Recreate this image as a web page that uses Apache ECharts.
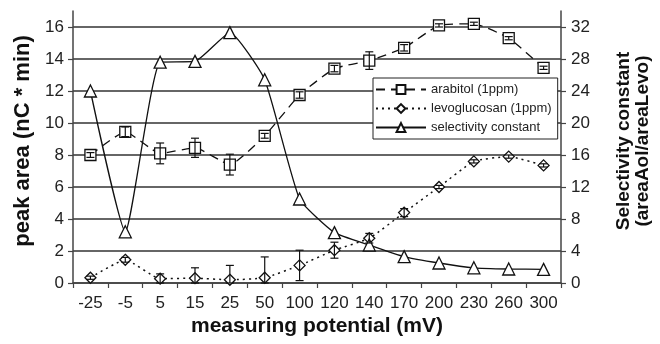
<!DOCTYPE html>
<html>
<head>
<meta charset="utf-8">
<script src="https://cdn.jsdelivr.net/npm/echarts@6/dist/echarts.min.js"></script>
<style>
  html, body { margin: 0; padding: 0; background: #fff; }
  #chart { width: 660px; height: 344px; }
</style>
</head>
<body>
<div id="chart"></div>
<script>
// measuring potential (mV)
const categories = ['-25', '-5', '5', '15', '25', '50', '100', '120', '140', '170', '200', '230', '260', '300'];
// peak area (nC * min), left axis
const arabitol = [8.0, 9.45, 8.1, 8.45, 7.4, 9.2, 11.75, 13.4, 13.9, 14.7, 16.1, 16.2, 15.3, 13.45];
const arabitolErr = [0.15, 0.3, 0.65, 0.6, 0.65, 0.15, 0.2, 0.2, 0.55, 0.2, 0.1, 0.1, 0.1, 0.1];
const levoglucosan = [0.33, 1.45, 0.27, 0.3, 0.2, 0.33, 1.1, 2.05, 2.8, 4.4, 6.0, 7.6, 7.9, 7.35];
const levoErr = [0.1, 0.15, 0.3, 0.65, 0.9, 1.3, 0.95, 0.5, 0.3, 0.25, 0.1, 0.1, 0.1, 0.1];
// selectivity constant, right axis
const selectivity = [24.0, 6.4, 27.6, 27.7, 31.3, 25.4, 10.5, 6.3, 4.75, 3.3, 2.5, 1.9, 1.75, 1.7];

const FONT = 'Liberation Sans, Arial, sans-serif';

// error bar data: [index, low, high]
function errData(vals, errs) {
  return vals.map((v, i) => [i, Math.max(0, v - errs[i]), v + errs[i]]);
}

function renderErr(params, api) {
  const lo = api.coord([api.value(0), api.value(1)]);
  const hi = api.coord([api.value(0), api.value(2)]);
  const cap = 4;
  const style = { stroke: '#111', lineWidth: 1.2 };
  return {
    type: 'group',
    children: [
      { type: 'line', shape: { x1: lo[0], y1: lo[1], x2: hi[0], y2: hi[1] }, style },
      { type: 'line', shape: { x1: lo[0] - cap, y1: lo[1], x2: lo[0] + cap, y2: lo[1] }, style },
      { type: 'line', shape: { x1: hi[0] - cap, y1: hi[1], x2: hi[0] + cap, y2: hi[1] }, style }
    ]
  };
}

const chart = echarts.init(document.getElementById('chart'));

const option = {
  animation: false,
  backgroundColor: '#fff',
  textStyle: { fontFamily: FONT },
  grid: { left: 73, right: 85, top: 11, bottom: 61 },
  title: {
    text: 'measuring potential (mV)',
    left: 191, top: 316, padding: 0,
    textStyle: { fontFamily: FONT, fontSize: 21, fontWeight: 'bold', color: '#111' }
  },
  legend: {
    orient: 'vertical',
    left: 373, top: 78,
    backgroundColor: '#fff',
    borderColor: '#222', borderWidth: 1,
    padding: [5, 6, 5, 2],
    itemGap: 6,
    itemWidth: 50, itemHeight: 11,
    textStyle: { fontFamily: FONT, fontSize: 13, color: '#222' },
    data: ['arabitol (1ppm)', 'levoglucosan (1ppm)', 'selectivity constant']
  },
  xAxis: {
    type: 'category',
    data: categories,
    boundaryGap: true,
    axisLine: { lineStyle: { color: '#444', width: 1.5 } },
    axisTick: { show: true, length: 5, lineStyle: { color: '#444', width: 1.2 } },
    axisLabel: { fontFamily: FONT, fontSize: 17, color: '#222', margin: 12, interval: 0 },
    splitLine: { show: false }
  },
  yAxis: [
    {
      type: 'value',
      min: 0, max: 17, interval: 2,
      name: 'peak area (nC * min)',
      nameLocation: 'middle',
      nameGap: 38,
      nameTextStyle: { fontFamily: FONT, fontSize: 22, fontWeight: 'bold', color: '#111', padding: [0, 0, 0, 12] },
      axisLine: { show: true, lineStyle: { color: '#444', width: 1.5 } },
      axisTick: { show: true, length: 5, lineStyle: { color: '#444', width: 1.2 } },
      axisLabel: { fontFamily: FONT, fontSize: 17, color: '#222', margin: 9, showMaxLabel: false },
      splitLine: { show: true, showMaxLine: false, lineStyle: { color: '#333', width: 1.5 } }
    },
    {
      type: 'value',
      position: 'right',
      min: 0, max: 34, interval: 4,
      name: 'Selectivity constant\n(areaAol/areaLevo)',
      nameLocation: 'middle',
      nameRotate: 90,
      nameGap: 53,
      nameTextStyle: { fontFamily: FONT, fontSize: 19, fontWeight: 'bold', color: '#111', lineHeight: 19, padding: [0, 0, 0, 12] },
      axisLine: { show: true, lineStyle: { color: '#444', width: 1.5 } },
      axisTick: { show: true, length: 5, lineStyle: { color: '#444', width: 1.2 } },
      axisLabel: { fontFamily: FONT, fontSize: 17, color: '#222', margin: 10, showMaxLabel: false },
      splitLine: { show: false }
    }
  ],
  series: [
    {
      name: 'arabitol (1ppm)',
      type: 'line',
      data: arabitol,
      smooth: 0.15,
      symbol: 'rect', symbolSize: 11,
      lineStyle: { color: '#111', width: 1.3, type: [9, 6] },
      itemStyle: { color: '#fff', borderColor: '#111', borderWidth: 1.3 },
      z: 3
    },
    {
      name: 'levoglucosan (1ppm)',
      type: 'line',
      data: levoglucosan,
      smooth: 0.15,
      symbol: 'diamond', symbolSize: 11,
      lineStyle: { color: '#111', width: 1.5, type: [2, 4] },
      itemStyle: { color: '#fff', borderColor: '#111', borderWidth: 1.3 },
      z: 3
    },
    {
      name: 'selectivity constant',
      type: 'line',
      yAxisIndex: 1,
      data: selectivity,
      smooth: 0.15,
      symbol: 'triangle', symbolSize: 12,
      lineStyle: { color: '#111', width: 1.3 },
      itemStyle: { color: '#fff', borderColor: '#111', borderWidth: 1.3 },
      z: 3
    },
    {
      type: 'custom',
      data: errData(arabitol, arabitolErr),
      renderItem: renderErr,
      encode: { x: 0, y: [1, 2] },
      z: 4, silent: true
    },
    {
      type: 'custom',
      data: errData(levoglucosan, levoErr),
      renderItem: renderErr,
      encode: { x: 0, y: [1, 2] },
      z: 4, silent: true
    }
  ]
};

chart.setOption(option);
</script>
</body>
</html>
